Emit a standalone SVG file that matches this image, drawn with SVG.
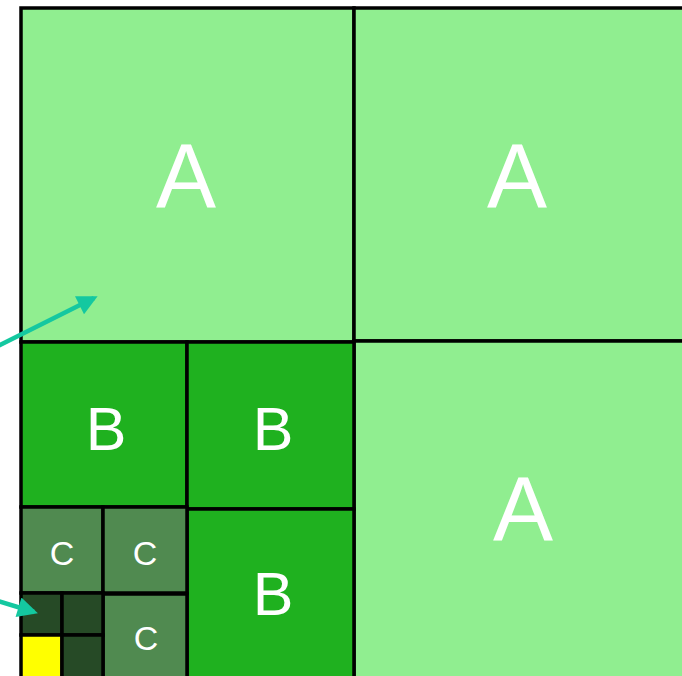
<svg xmlns="http://www.w3.org/2000/svg" width="682" height="676" viewBox="0 0 682 676">
<defs>
<style>
.cell{stroke:#000;stroke-width:3.5}
.a{fill:#90EE90}.b{fill:#1FB11F}.c{fill:#508A50}.d{fill:#264A26}.y{fill:#FFFF00}
text{font-family:"Liberation Sans",Arial,sans-serif;fill:#fff;text-anchor:middle}
.ta{font-size:90px}.tb{font-size:61px}.tc{font-size:34px}
.arrow{stroke:#14C8A0;stroke-width:4.5;fill:none}
</style>
<marker id="ah" viewBox="0 0 10 10" refX="8" refY="5" markerWidth="5" markerHeight="4.5" orient="auto" markerUnits="strokeWidth">
<path d="M0,0 L10,5 L0,10 z" fill="#14C8A0"/>
</marker>
</defs>
<rect width="682" height="676" fill="#fff"/>
<g id="A1"><rect class="cell a" x="21" y="8" width="333" height="334"/><text class="ta" x="186" y="207">A</text></g>
<g id="A2"><rect class="cell a" x="354" y="8" width="340" height="333"/><text class="ta" x="517" y="207">A</text></g>
<g id="A3"><rect class="cell a" x="354" y="341" width="340" height="345"/><text class="ta" x="523" y="540">A</text></g>
<g id="B1"><rect class="cell b" x="21" y="342" width="166" height="165"/><text class="tb" x="106" y="450">B</text></g>
<g id="B2"><rect class="cell b" x="187" y="342" width="167" height="167"/><text class="tb" x="273" y="450">B</text></g>
<g id="B3"><rect class="cell b" x="187" y="509" width="167" height="177"/><text class="tb" x="273" y="615">B</text></g>
<g id="C1"><rect class="cell c" x="21" y="507" width="82" height="86"/><text class="tc" x="62" y="565">C</text></g>
<g id="C2"><rect class="cell c" x="103" y="507" width="84" height="86"/><text class="tc" x="145" y="565">C</text></g>
<g id="C3"><rect class="cell c" x="103" y="594" width="84" height="92"/><text class="tc" x="146" y="650">C</text></g>
<g id="D1"><rect class="cell d" x="21" y="593" width="41" height="42"/></g>
<g id="D2"><rect class="cell d" x="62" y="593" width="41" height="42"/></g>
<g id="Y"><rect class="cell y" x="21" y="635" width="41" height="51"/></g>
<g id="D3"><rect class="cell d" x="62" y="635" width="41" height="51"/></g>
<g id="connectors">
<line class="arrow" x1="-2" y1="346" x2="94" y2="298" marker-end="url(#ah)"/>
<line class="arrow" x1="-2" y1="601" x2="34" y2="612" marker-end="url(#ah)"/>
</g>
</svg>
